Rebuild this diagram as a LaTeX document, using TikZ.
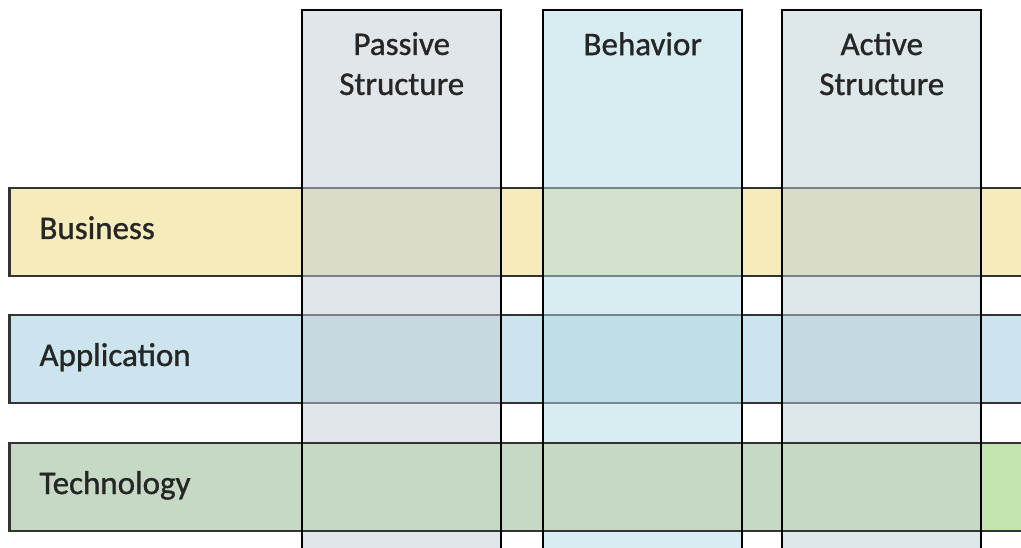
\documentclass[tikz,border=0pt]{standalone}
\usepackage{fontspec}
\setmainfont{Carlito}
\newfontfamily\labelfont{Carlito}[FakeBold=1.0]
\usetikzlibrary{positioning}

\definecolor{busfill}{HTML}{F5EBBB}
\definecolor{appfill}{HTML}{CCE4EE}
\definecolor{techfill}{HTML}{C5D9C4}
\definecolor{techbright}{HTML}{C4E4B0}
\definecolor{passfill}{HTML}{C3CDD5}
\definecolor{behfill}{HTML}{B1DBE3}
\definecolor{actfill}{HTML}{BDCFD5}
\definecolor{rowline}{HTML}{333333}

\tikzset{
  rowbox/.style={draw=rowline, line width=2.2pt, outer sep=0pt, anchor=west,
    minimum width=1040pt, minimum height=88pt, inner xsep=28.5pt,
    text width=980pt, align=left, text height=21pt, text depth=7pt,
    text=black!85},
  colbox/.style={draw=black, line width=2.4pt, outer sep=0pt, anchor=north,
    minimum width=199pt, minimum height=560pt, fill opacity=0.5},
  coltext/.style={anchor=north, align=center, inner sep=0pt, yshift=-22pt,
    text opacity=1, text=black!85},
  colline/.style={draw=black, line width=2.4pt}
}

\begin{document}
\begin{tikzpicture}[x=1pt,y=-1pt]
  \labelfont\fontsize{33}{40}\selectfont
  \useasboundingbox (0,0) rectangle (1021,548);
  \clip (0,0) rectangle (1021,548);
  % layers (rows)
  \node[rowbox, fill=busfill] (busrow) at (9.5,232) {Business};
  \node[rowbox, fill=appfill, below=39pt of busrow] (approw) {Application};
  % aspects (columns), see-through
  \node[colbox, fill=passfill, label={[coltext]north:{Passive\\Structure}}]
    (pcol) at (401.75,10) {};
  \node[colbox, fill=behfill, right=42pt of pcol,
    label={[coltext]north:{Behavior}}] (bcol) {};
  \node[colbox, fill=actfill, right=40pt of bcol,
    label={[coltext]north:{Active\\Structure}}] (acol) {};
  % technology layer lies on top
  \node[rowbox, fill=techfill, below=40pt of approw] (techrow) {Technology};
  \fill[techbright] ([yshift=-1.1pt]acol.east |- techrow.north)
    rectangle ([yshift=1.1pt]techrow.south east);
  % column outlines again
  \foreach \c in {pcol,bcol,acol}
    \draw[colline] (\c.north west) rectangle (\c.south east);
\end{tikzpicture}
\end{document}
